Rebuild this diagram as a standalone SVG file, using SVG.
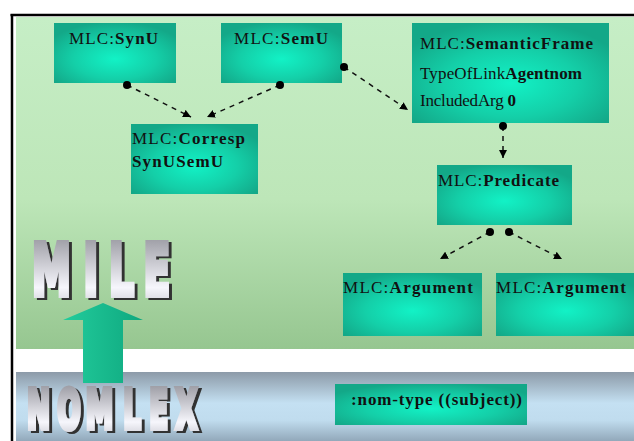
<svg xmlns="http://www.w3.org/2000/svg" width="634" height="441" viewBox="0 0 634 441">
  <defs>
    <linearGradient id="gPanel" x1="0" y1="0" x2="0" y2="1">
      <stop offset="0" stop-color="#c6eec6"/>
      <stop offset="0.55" stop-color="#bde6b8"/>
      <stop offset="1" stop-color="#96c690"/>
    </linearGradient>
    <linearGradient id="gBlue" x1="0" y1="0" x2="0" y2="1">
      <stop offset="0" stop-color="#8c9aa8"/>
      <stop offset="0.45" stop-color="#c4e0f2"/>
      <stop offset="0.7" stop-color="#c0dcee"/>
      <stop offset="1" stop-color="#92a8ba"/>
    </linearGradient>
    <radialGradient id="gNode" cx="0.5" cy="0.6" r="0.62">
      <stop offset="0" stop-color="#12f2c6"/>
      <stop offset="0.55" stop-color="#14cfa8"/>
      <stop offset="1" stop-color="#13a888"/>
    </radialGradient>
    <linearGradient id="gArrow" x1="0" y1="0" x2="1" y2="0">
      <stop offset="0" stop-color="#22cc9c"/>
      <stop offset="1" stop-color="#0fa87f"/>
    </linearGradient>
    <linearGradient id="gMetal" x1="0" y1="0" x2="0" y2="1">
      <stop offset="0" stop-color="#8e8e96"/>
      <stop offset="0.7" stop-color="#f6f6fc"/>
      <stop offset="1" stop-color="#c4c4cc"/>
    </linearGradient>
    <filter id="drop" x="-10%" y="-10%" width="125%" height="130%">
      <feOffset in="SourceAlpha" dx="5" dy="2" result="off"/>
      <feFlood flood-color="#333333"/>
      <feComposite in2="off" operator="in" result="sh"/>
      <feMerge>
        <feMergeNode in="sh"/>
        <feMergeNode in="SourceGraphic"/>
      </feMerge>
    </filter>
    <marker id="dot" viewBox="0 0 8 8" refX="4" refY="4" markerWidth="8" markerHeight="8" markerUnits="userSpaceOnUse">
      <circle cx="4" cy="4" r="4" fill="#000"/>
    </marker>
    <marker id="tri" viewBox="0 0 10 10" refX="10" refY="5" markerWidth="8" markerHeight="8" markerUnits="userSpaceOnUse" orient="auto">
      <path d="M0,0 L10,5 L0,10 Z" fill="#000"/>
    </marker>
    <style>
      .node { fill: url(#gNode); }
      .t { font-family: "Liberation Serif", "Times New Roman", serif; font-size: 17px; fill: #111; }
      .b { font-weight: bold; }
      .conn { fill: none; stroke: #111; stroke-width: 1.5; stroke-dasharray: 5 5; marker-start: url(#dot); marker-end: url(#tri); }
      .big { font-family: "DejaVu Sans", "Liberation Sans", sans-serif; font-weight: bold; }
      .metal { fill: url(#gMetal); stroke: url(#gMetal); stroke-width: 6; filter: url(#drop); }
    </style>
  </defs>

  <rect x="0" y="0" width="634" height="441" fill="#ffffff"/>
  <!-- frame -->
  <line x1="10.5" y1="15" x2="634" y2="15" stroke="#000" stroke-width="2.5"/>
  <line x1="12" y1="14" x2="12" y2="441" stroke="#000" stroke-width="2.5"/>

  <!-- panels -->
  <rect x="16" y="17" width="618" height="332" fill="url(#gPanel)"/>
  <rect x="16" y="372" width="618" height="69" fill="url(#gBlue)"/>

  <!-- big arrow -->
  <path id="bigArrow" d="M83,383 L83,320 L63,320 L103,303 L143,320 L123,320 L123,383 Z" fill="url(#gArrow)"/>

  <!-- MILE -->
  <g id="mile">
    <text class="big metal" font-size="71" transform="scale(0.55 1)" x="58 152 198 261" y="295">MILE</text>
  </g>
  <!-- NOMLEX -->
  <g id="nomlex">
    <text class="big metal" font-size="53" transform="scale(0.52 1)" x="52 110 165 237 287 338" y="428">NOMLEX</text>
  </g>

  <!-- nodes -->
  <g id="synu">
    <rect class="node" x="54" y="23" width="122" height="60"/>
    <text class="t" x="69" y="44" textLength="89" lengthAdjust="spacing">MLC:<tspan class="b">SynU</tspan></text>
  </g>
  <g id="semu">
    <rect class="node" x="221" y="23" width="121" height="60"/>
    <text class="t" x="234" y="44" textLength="94" lengthAdjust="spacing">MLC:<tspan class="b">SemU</tspan></text>
  </g>
  <g id="corresp">
    <rect class="node" x="131" y="124" width="127" height="70"/>
    <text class="t" x="132" y="144" textLength="113" lengthAdjust="spacing">MLC:<tspan class="b">Corresp</tspan></text>
    <text class="t b" x="132" y="167" textLength="91" lengthAdjust="spacing">SynUSemU</text>
  </g>
  <g id="semanticframe">
    <rect class="node" x="412" y="23" width="197" height="100"/>
    <text class="t" x="420" y="49" textLength="173" lengthAdjust="spacing">MLC:<tspan class="b">SemanticFrame</tspan></text>
    <text class="t" x="420" y="79" textLength="162" lengthAdjust="spacing">TypeOfLink<tspan class="b">Agentnom</tspan></text>
    <text class="t" x="420" y="106" textLength="96" lengthAdjust="spacing">IncludedArg <tspan class="b">0</tspan></text>
  </g>
  <g id="predicate">
    <rect class="node" x="437" y="165" width="135" height="60"/>
    <text class="t" x="438" y="186" textLength="121" lengthAdjust="spacing">MLC:<tspan class="b">Predicate</tspan></text>
  </g>
  <g id="argument1">
    <rect class="node" x="343" y="273" width="139" height="63"/>
    <text class="t" x="343" y="293" textLength="130" lengthAdjust="spacing">MLC:<tspan class="b">Argument</tspan></text>
  </g>
  <g id="argument2">
    <rect class="node" x="496" y="273" width="140" height="63"/>
    <text class="t" x="496" y="293" textLength="130" lengthAdjust="spacing">MLC:<tspan class="b">Argument</tspan></text>
  </g>
  <g id="nomtype">
    <rect class="node" x="335" y="384" width="192" height="41"/>
    <text class="t b" x="351" y="405" textLength="171" lengthAdjust="spacing">:nom-type ((subject))</text>
  </g>

  <!-- connectors -->
  <g id="connectors">
    <path class="conn" d="M127,85 L191,117"/>
    <path class="conn" d="M280,85 L207,117"/>
    <path class="conn" d="M344,67 L408,110"/>
    <path class="conn" d="M503,126 L503,158"/>
    <path class="conn" d="M490,232 L440,259"/>
    <path class="conn" d="M509,232 L562,259"/>
  </g>
</svg>
